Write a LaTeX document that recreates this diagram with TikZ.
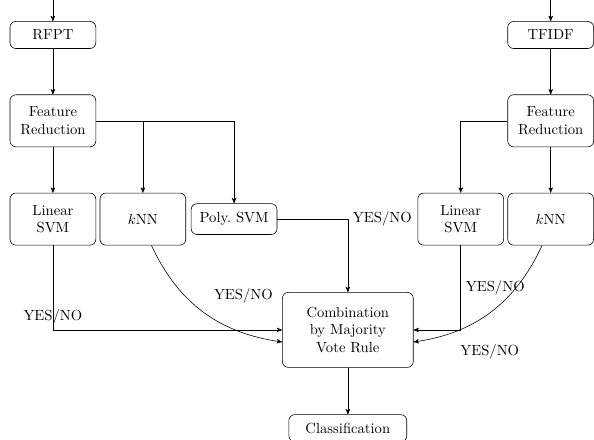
\documentclass[tikz,border=0pt]{standalone}
\usepackage{amsmath}
\usepackage{tikz}
\usetikzlibrary{arrows}
\tikzset{
  blk/.style = {draw=black, rounded corners=4pt, align=center, inner sep=2pt,
    minimum width=2.06cm},% boite generique
  blk_s/.style = {blk, minimum height=0.65cm},% boite une ligne
  blk_d/.style = {blk, minimum height=1.25cm},% boite deux lignes
  blk_c/.style = {blk, minimum width=3.14cm, minimum height=1.8cm}% vote
}

\begin{document}
\begin{tikzpicture}[->,>=stealth']
    \useasboundingbox (0,0) rectangle (14.26,-10.54);
    \coordinate (inL) at (1.27,0);
    \coordinate (inR) at (13.22,0);
    % left chain
    \node [blk_s] (rfpt) at (1.27,-0.84) {RFPT};
    \node [blk_d] (frL) at (1.27,-2.90) {Feature\\Reduction};
    \node [blk_d] (linL) at (1.27,-5.26) {Linear\\SVM};
    \node [blk_d] (knnL) at (3.43,-5.26) {$k$NN};
    \node [blk, minimum height=0.74cm] (poly) at (5.62,-5.26) {Poly.\ SVM};
    % right chain
    \node [blk_s] (tfidf) at (13.22,-0.84) {TFIDF};
    \node [blk_d] (frR) at (13.22,-2.90) {Feature\\Reduction};
    \node [blk_d] (linR) at (11.06,-5.26) {Linear\\SVM};
    \node [blk_d] (knnR) at (13.22,-5.26) {$k$NN};
    % combination
    \node [blk_c] (comb) at (8.35,-7.92) {Combination\\by Majority\\Vote Rule};
    \node [blk_s, minimum width=2.83cm] (clf) at (8.35,-10.28) {Classification};

    \draw (inL) -- (rfpt);
    \draw (rfpt) -- (frL);
    \draw (frL) -- (linL);
    \draw (frL.east) -| (knnL.north);
    \draw (frL.east) -| (poly.north);
    \draw (inR) -- (tfidf);
    \draw (tfidf) -- (frR);
    \draw (frR) -- (knnR);
    \draw (frR.west) -| (linR.north);

    \draw (linL.south) |- node[pos=0.42] {YES/NO} (comb.west);
    \draw (knnL.-72) to[out=-65,in=172]
        node[pos=1, anchor=south east, xshift=-0.1cm, yshift=0.8cm] {YES/NO}
        ([yshift=-0.29cm]comb.west);
    \draw (poly.east) -| node[pos=0.5, right] {YES/NO} (comb.north);
    \draw (linR.south) |- node[pos=0.25, right] {YES/NO} (comb.east);
    \draw (knnR.-108) to[out=-115,in=8]
        node[pos=1, anchor=west, xshift=1cm, yshift=-0.24cm] {YES/NO}
        ([yshift=-0.29cm]comb.east);
    \draw (comb) -- (clf);
\end{tikzpicture}
\end{document}
